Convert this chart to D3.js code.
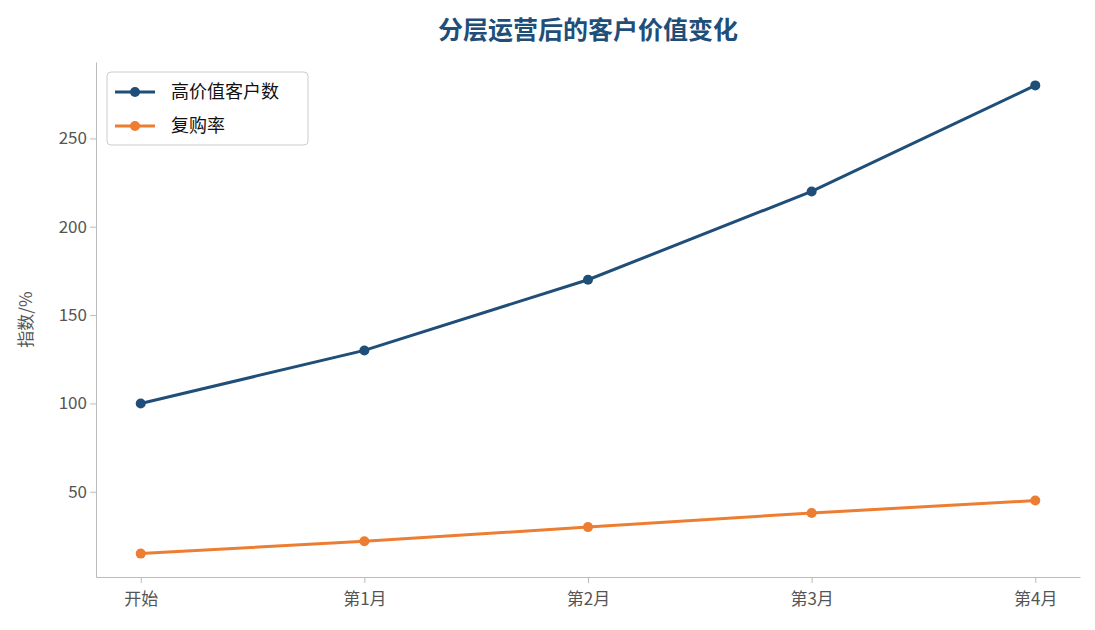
<!DOCTYPE html>
<html><head><meta charset="utf-8">
<script src="https://cdn.jsdelivr.net/npm/d3@7"></script>
<style>body{margin:0;background:#fff;font-family:"Noto Sans CJK SC","Noto Sans",sans-serif;}</style>
</head><body>
<script>
// chart data
var months = ["开始", "第1月", "第2月", "第3月", "第4月"];
var highValue = [100, 130, 170, 220, 280];
var repurchase = [15, 22, 30, 38, 45];
var yTicks = [50, 100, 150, 200, 250];

var width = 1095, height = 630;
var margin = {top: 62, right: 15, bottom: 53, left: 96};

var svg = d3.select("body").append("svg")
    .attr("width", width).attr("height", height);

var x = d3.scaleLinear().domain([-0.2, 4.2]).range([margin.left, width - margin.right]);
var y = d3.scaleLinear().domain([1.75, 293.25]).range([height - margin.bottom, margin.top]);

var xAxis = svg.append("g")
    .attr("transform", "translate(0," + (height - margin.bottom) + ")")
    .call(d3.axisBottom(x).tickValues(d3.range(5)).tickFormat(function(i) { return months[i]; }).tickSizeOuter(0));
var yAxis = svg.append("g")
    .attr("transform", "translate(" + margin.left + ",0)")
    .call(d3.axisLeft(y).tickValues(yTicks).tickSizeOuter(0));

[xAxis, yAxis].forEach(function(a) {
    a.selectAll("path,line").attr("stroke", "#bbb");
    a.selectAll("text").attr("fill", "#555").style("font-size", "17px")
        .style("font-family", "'Noto Sans CJK SC',sans-serif");
});
xAxis.selectAll("text").attr("dy", "1.1em");

svg.append("text")
    .attr("transform", "translate(32," + ((margin.top + height - margin.bottom) / 2) + ") rotate(-90)")
    .attr("text-anchor", "middle").attr("fill", "#555").style("font-size", "17px")
    .text("指数/%");

svg.append("text")
    .attr("x", 588).attr("y", 39).attr("text-anchor", "middle")
    .attr("fill", "#1f4e79").style("font-size", "25px").style("font-weight", "bold")
    .text("分层运营后的客户价值变化");

var series = [
    {name: "高价值客户数", values: highValue, color: "#1f4e79"},
    {name: "复购率", values: repurchase, color: "#ed7d31"}
];

var line = d3.line().x(function(d, i) { return x(i); }).y(function(d) { return y(d); });

series.forEach(function(s) {
    svg.append("path").datum(s.values)
        .attr("d", line).attr("fill", "none")
        .attr("stroke", s.color).attr("stroke-width", 3);
    svg.selectAll(null).data(s.values).enter().append("circle")
        .attr("cx", function(d, i) { return x(i); })
        .attr("cy", function(d) { return y(d); })
        .attr("r", 5).attr("fill", s.color);
});

var legend = svg.append("g").attr("transform", "translate(107,72)");
legend.append("rect").attr("width", 201).attr("height", 73).attr("rx", 4)
    .attr("fill", "#fff").attr("stroke", "#ccc");
series.forEach(function(s, i) {
    var g = legend.append("g").attr("transform", "translate(0," + (20 + i * 34) + ")");
    g.append("line").attr("x1", 8).attr("x2", 48).attr("stroke", s.color).attr("stroke-width", 3);
    g.append("circle").attr("cx", 28).attr("r", 5).attr("fill", s.color);
    g.append("text").attr("x", 64).attr("dy", "0.35em").style("font-size", "18px")
        .attr("fill", "#111").text(s.name);
});
</script>
</body></html>
